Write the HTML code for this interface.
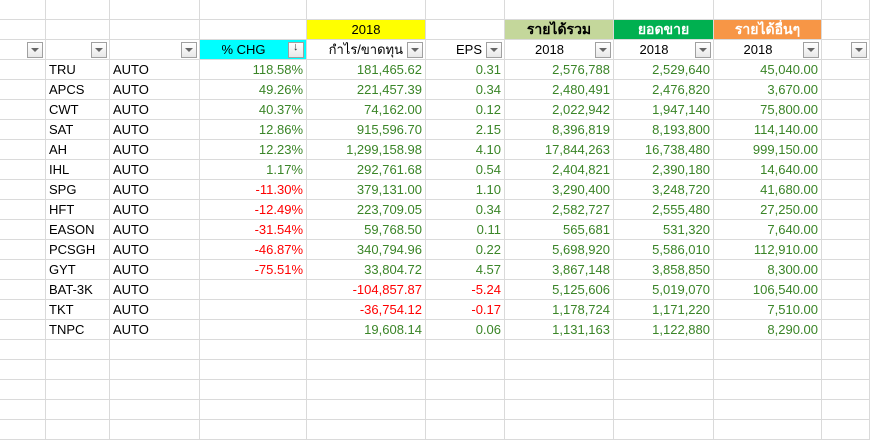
<!DOCTYPE html>
<html><head><meta charset="utf-8">
<style>
body{margin:0;width:870px;height:421px;overflow:hidden;background:#fff;font-family:"Liberation Sans","Noto Sans CJK SC",sans-serif;font-size:13px;color:#000}
#grid{position:relative;width:870px;height:421px}
.c{position:absolute;box-sizing:border-box;border-right:1px solid #dadada;border-bottom:1px solid #dadada;height:20px;line-height:19px;white-space:nowrap;overflow:hidden;padding:0 3px}
.r{text-align:right}.m{text-align:center}
.g{color:#3a8527}.n{color:#f00}
.fb{position:absolute;width:16px;height:16px;box-sizing:border-box;border:1px solid #a0a0a0;background:linear-gradient(#fff,#e8e8e8)}
.fb:after{content:"";position:absolute;left:3px;top:5px;border-left:4px solid transparent;border-right:4px solid transparent;border-top:4px solid #666}
.fb.s:after{content:"↓";border:none;left:4px;top:-2px;font-size:11px;color:#333}
</style></head><body>
<div id="grid"></div>
<script>
const colX=[0,46,110,200,307,426,505,614,714,822,870];
const symbols=["TRU","APCS","CWT","SAT","AH","IHL","SPG","HFT","EASON","PCSGH","GYT","BAT-3K","TKT","TNPC"];
const pctChg=["118.58%","49.26%","40.37%","12.86%","12.23%","1.17%","-11.30%","-12.49%","-31.54%","-46.87%","-75.51%","","",""];
const profit=["181,465.62","221,457.39","74,162.00","915,596.70","1,299,158.98","292,761.68","379,131.00","223,709.05","59,768.50","340,794.96","33,804.72","-104,857.87","-36,754.12","19,608.14"];
const eps=["0.31","0.34","0.12","2.15","4.10","0.54","1.10","0.34","0.11","0.22","4.57","-5.24","-0.17","0.06"];
const revenue=["2,576,788","2,480,491","2,022,942","8,396,819","17,844,263","2,404,821","3,290,400","2,582,727","565,681","5,698,920","3,867,148","5,125,606","1,178,724","1,131,163"];
const sales=["2,529,640","2,476,820","1,947,140","8,193,800","16,738,480","2,390,180","3,248,720","2,555,480","531,320","5,586,010","3,858,850","5,019,070","1,171,220","1,122,880"];
const other=["45,040.00","3,670.00","75,800.00","114,140.00","999,150.00","14,640.00","41,680.00","27,250.00","7,640.00","112,910.00","8,300.00","106,540.00","7,510.00","8,290.00"];
const G=document.getElementById('grid');
function cell(ci,row,text,cls,style,name){
  const d=document.createElement('div');
  d.className='c '+(cls||'');
  d.style.left=colX[ci]+'px';d.style.top=(row*20)+'px';d.style.width=(colX[ci+1]-colX[ci])+'px';
  if(style)d.style.cssText+=style;
  d.textContent=text||'';
  
  
  G.appendChild(d);return d;
}
for(let r=0;r<22;r++)for(let c=0;c<10;c++){
  if(r===1||r===2)continue;
  if(r>=3&&r<17&&c>=1&&c<=8)continue;
  cell(c,r,'','','','empty-cell');
}
for(let c=0;c<10;c++){
  const t={4:'2018',6:'รายได้รวม',7:'ยอดขาย',8:'รายได้อื่นๆ'}[c]||'';
  const bg={4:'#ffff00',6:'#c4d79b',7:'#00b050',8:'#f79646'}[c];
  const st=bg?'background:'+bg+';':'';
  const col=(c===7||c===8)?'color:#fff;font-weight:bold;font-size:14px;':(c===6?'font-weight:bold;font-size:14px;':'');
  cell(c,1,t,'m',st+col,t?'group-header':'empty-cell');
}
const h2=['','','','% CHG','กำไร/ขาดทุน','EPS','2018','2018','2018',''];
for(let c=0;c<10;c++){
  cell(c,2,h2[c],(c===4||c===5?'r':'m'),(c===3?'background:#00ffff;':'')+'padding-right:22px;',h2[c]?'column-header':'empty-header');
  const b=document.createElement('div');
  b.className='fb'+(c===3?' s':'');
  b.style.left=(colX[c+1]-19)+'px';b.style.top='42px';
  
  
  G.appendChild(b);
}
function sg(v){return v.trim().startsWith('-')?'n':'g'}
for(let i=0;i<symbols.length;i++){
  const r=3+i;
  cell(1,r,symbols[i],'','','symbol-cell');
  cell(2,r,'AUTO','','','sector-cell');
  cell(3,r,pctChg[i],'r '+sg(pctChg[i]),'','pct-chg-cell');
  cell(4,r,profit[i],'r '+sg(profit[i]),'','profit-cell');
  cell(5,r,eps[i],'r '+sg(eps[i]),'','eps-cell');
  cell(6,r,revenue[i],'r g','','revenue-cell');
  cell(7,r,sales[i],'r g','','sales-cell');
  cell(8,r,other[i],'r g','','other-income-cell');
}
</script>
</body></html>
